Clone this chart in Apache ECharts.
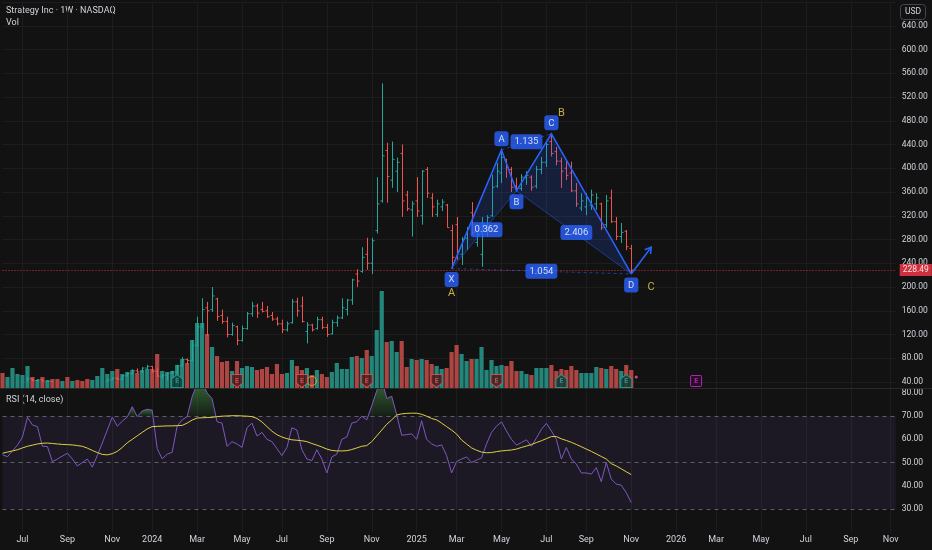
<!DOCTYPE html>
<html><head><meta charset="utf-8">
<script src="https://cdn.jsdelivr.net/npm/echarts@6/dist/echarts.min.js"></script>
<style>html,body{margin:0;padding:0;background:#121212;}#c{width:932px;height:550px;}</style>
</head><body><div id="c"></div>
<script>
// ---------- DATA ----------
const startDate = [2023, 5, 5];           // first weekly bar (Mon 5 Jun 2023)
const totalWeeks = 180;                   // visible weekly slots incl. future space
const tickWeeks = [4,13,22,30,39,48,56,65,74,83,91,100,109,117,126,135,143,152,161,170,178];
const tickTexts = ['Jul','Sep','Nov','2024','Mar','May','Jul','Sep','Nov','2025','Mar','May','Jul','Sep','Nov','2026','Mar','May','Jul','Sep','Nov'];
const priceTicks = { min: 40, max: 680, step: 40, lastShown: 640 };

// weekly bars: [open, close, low, high]
const ohlc = [
[31,29.8,29,31.5],[29.8,33.6,29.5,34.5],[33.6,34.8,33,36.2],[34.8,36.1,33.5,37],[36.1,39.5,35.5,41],
[39.5,45.2,39,48],[45.2,42.6,41.5,46],[42.6,43.8,41,45],[43.8,39.8,38.5,44.5],[39.8,40.6,38.5,42],
[40.6,34.7,34,41],[34.7,33.4,32.5,36],[33.4,36.6,33,38.5],[36.6,33.9,33.5,37],[33.9,34.4,32.8,35.5],
[34.4,32.8,32,34.8],[32.8,32,31,33.5],[32,30.9,30.2,33],[30.9,31.6,29.8,32.5],[31.6,33.3,31,34],
[33.3,39.5,33,40.5],[39.5,43.5,38.5,44.5],[43.5,46.5,42.5,48],[46.5,44.7,43.5,48.5],[44.7,50.5,44,51.5],
[50.5,54,49.5,56],[54,59,52.5,61.5],[59,57,55,63],[57,63.5,56,65],[63.5,66.3,61,69],
[66.3,58,56,67],[58,50,48,63],[50,51.5,46,53],[51.5,55,43,56],[55,57,53,59],
[57,67,54,69],[67,78,66,82],[78,76,70,80],[76,102,75,110],[102,133,100,150],
[133,162,130,181],[165,160,118,175],[162,185,158,200],[180,150,143,182],[152,142,138,162],
[142,120,115,150],[120,135,118,140],[133,110,102,135],[110,130,108,135],[130,155,128,158],
[155,168,150,175],[168,156,148,172],[162,159,157,175],[160,150,148,168],[152,146,143,158],
[146,138,135,150],[138,128,122,145],[128,138,125,142],[140,175,138,180],[175,160,150,182],
[168,142,140,184],[125,136,105,141],[136,128,125,138],[130,145,128,150],[145,132,129,150],
[132,120,116,138],[121,140,120,145],[140,148,133,152],[148,165,146,181],[162,178,152,180],
[178,212,170,214],[222,210,200,230],[226,250,224,267],[255,240,229,283],[240,278,222,283],
[295,340,290,385],[345,421,342,543],[430,386,342,443],[380,415,367,445],[395,410,360,418],
[425,345,318,440],[355,332,328,362],[330,340,285,345],[345,328,318,385],[320,395,305,397],
[398,358,350,402],[350,335,318,358],[322,340,318,347],[335,343,328,348],[338,300,300,340],
[295,250,231,305],[305,260,246,318],[255,280,237,284],[282,298,262,301],[325,292,288,343],
[275,288,268,292],[255,300,234,318],[300,317,285,321],[320,368,318,389],[370,395,367,409],
[392,418,375,431],[414,402,384,416],[398,368,360,402],[370,366,362,384],[366,385,362,390],
[384,388,372,395],[385,368,362,388],[370,398,366,404],[398,410,390,419],[410,440,402,444],
[445,425,420,458],[428,412,405,436],[412,395,367,418],[400,388,380,414],[392,362,360,411],
[362,340,335,375],[333,345,328,358],[335,350,321,358],[338,355,330,364],[340,350,330,358],
[340,300,296,342],[305,345,300,355],[350,310,308,364],[310,285,279,318],[285,292,274,308],
[294,268,262,296],[265,228.49,222,271]
];
const lastPrice = 228.49;

// weekly volume (relative units)
const volume = [
15,11,20,14,13,22,11,8,11,8, 9,9,7,11,7,8,7,9,8,12, 20,14,17,19,14,16,18,15,18,19,
19,34,17,16,17,23,29,25,48,65, 65,54,41,32,26,27,17,27,20,22, 21,18,19,21,14,24,14,15,28,22,
18,20,13,18,14,11,16,25,19,19, 31,32,30,38,32,58,97,46,47,36, 47,21,29,
28,29,28,24,22,19,20,36,43,34, 27,29,29,41,18,28,22,23,22,27, 17,17,14,13,20,20,20,23,17,19,
18,22,18,15,15,15,21,20,19,22, 19,17,23,18
];

// RSI(14) and its moving average
const rsi = [
53.3,52.5,55,57.5,61,69.5,66.2,65.5,57,56.9,
50.4,51.5,52.8,54,51.5,48.5,50,51.5,48,53,
58.4,64,69.6,65.7,67.8,69.6,74.1,69.8,72.2,73,
72.6,56,51.6,53.6,54.4,65.7,68.4,69.8,78.4,84,
85,80,77.6,67.6,67,57,59,58,56.5,65,
67,61.4,63,60,59,56,53,56.5,65,64,
55.5,51.5,50.8,55.5,51.5,45.5,52.4,53.6,60,61,
67,67.6,70,68.4,74.5,81,86,77.6,78.6,70.5,
61.8,62,62.4,60,68,60,58,57,57.6,53,
45.5,50.4,51.5,52.4,50,51,52,58,63,65.7,
67.5,63.6,60,57.5,58.6,59.8,57,60.6,64.3,66.9,
63.6,60,51.5,56.5,51.5,49.3,45.5,45.5,45,47.8,
41.7,50,42.8,40.7,40.2,37,32.7
];
const rsiMA = [
54,54.5,55,55.5,56.3,57,57.5,58,58.3,58.4,
58.2,58,57.8,57.7,57.6,57.3,57,56.2,55.2,54.3,
53.5,53.3,53.8,54.8,56.5,58.5,60,61.5,63,64.5,
65.5,65.6,65.7,65.8,65.8,65.9,66,67,68.3,69.2,
69.3,69.4,69.5,69.8,70,70.1,70.2,70.2,70.1,70,
69.8,69,67.5,65.5,63.5,62,61,60.3,59.8,59.6,
59.4,59,58.2,57.5,56.7,55.8,55.2,55,55,55.1,
55.6,56.3,57,57.3,59,61.5,64,66.5,68.4,70.5,
71,71.2,71.3,71.3,70.8,70,69,68.4,67,65.5,
64,62.3,59.7,58,56.3,55.3,54.5,54.2,54.3,54.7,
55,55.2,55.4,55.8,56.5,57.1,57.8,58.6,59.4,60.3,
61.2,61.2,60.2,59.5,58.7,57.8,56.8,55.8,54.8,53.7,
52.6,51.5,49.5,48.5,47.3,46,44.8
];
const rsiLevels = [70, 50, 30];

// harmonic pattern points [name, week, price, label side]
const patternPoints = [['X',90,231,'bottom'],['A',100,431,'top'],['B',103,362,'bottom'],['C',110,458,'top'],['D',126,222,'bottom']];
const patternRatios = [['0.362',96.5,296.5],['1.135',105,444.5],['2.406',114.5,292],['1.054',108,226.5]];
const arrowEnd = [130, 267];
const abcLabels = [['A',90,190],['B',112,492],['C',130,200]];

// events on the volume pane [week, kind]
const earnings = [[35,'up'],[47,'down'],[60,'down'],[73,'down'],[87,'down'],[99,'down'],[112,'up'],[125,'up'],[139,'future']];
const splitEvent = [62];
const dividendDot = [127];

// ---------- CHART ----------
const cats = [];
const d0 = Date.UTC(startDate[0], startDate[1], startDate[2]);
for (let i = 0; i < totalWeeks; i++) cats.push(new Date(d0 + i * 7 * 864e5).toISOString().slice(0, 10));
const tickMap = {};
tickWeeks.forEach((w, k) => tickMap[w] = tickTexts[k]);

const UP = '#26a69a', DOWN = '#ef5350';
const VUP = '#24857a', VDOWN = '#ad4542';
const GRIDC = '#1d1d1d';
const TXT = '#d1d4dc';
const FONT = 'Roboto, "Liberation Sans", sans-serif';
const GL = 2.5, GW = 893.2;
const CLEAR = 'rgba(0,0,0,0)';

const catAxis = (gi, showLabel) => ({
  type: 'category', gridIndex: gi, data: cats, boundaryGap: false,
  axisLine: { show: false }, axisTick: { show: false },
  axisLabel: showLabel ? {
    show: true, color: TXT, fontSize: 9, margin: 3, fontFamily: FONT,
    interval: (idx) => tickMap[idx] !== undefined,
    formatter: (v, idx) => tickMap[idx] || ''
  } : { show: false },
  splitLine: { show: true, interval: (idx) => tickMap[idx] !== undefined, lineStyle: { color: GRIDC, width: 1 } }
});

const shieldDown = 'path://M0 0 H10 V8 L5 12 L0 8 Z';
const shieldUp = 'path://M5 0 L10 4 V12 H0 V4 Z';
const squareSym = 'path://M1 0 H9 Q10 0 10 1 V9 Q10 10 9 10 H1 Q0 10 0 9 V1 Q0 0 1 0 Z';

const chart = echarts.init(document.getElementById('c'), null, { renderer: 'canvas' });

function renderBar(params, api) {
  const i = api.value(0), o = api.value(1), c = api.value(2), l = api.value(3), h = api.value(4);
  const pO = api.coord([i, o]), pC = api.coord([i, c]), pL = api.coord([i, l]), pH = api.coord([i, h]);
  const x = Math.round(pO[0]) + 0.5;
  const col = c >= o ? UP : DOWN;
  const st = { stroke: col, lineWidth: 1 };
  return { type: 'group', children: [
    { type: 'line', shape: { x1: x, y1: pH[1], x2: x, y2: pL[1] }, style: st },
    { type: 'line', shape: { x1: x - 2, y1: pO[1], x2: x, y2: pO[1] }, style: st },
    { type: 'line', shape: { x1: x, y1: pC[1], x2: x + 2, y2: pC[1] }, style: st }
  ]};
}

function renderOverbought(params, api) {
  const polys = [];
  let cur = null;
  const y70 = api.coord([0, 70])[1];
  for (let i = 0; i < rsi.length; i++) {
    const v = rsi[i];
    const p = api.coord([i, v]);
    if (v > 70) {
      if (!cur) {
        cur = [];
        if (i > 0) {
          const pv = rsi[i - 1], pp = api.coord([i - 1, pv]);
          const t = (70 - pv) / (v - pv);
          cur.push([pp[0] + t * (p[0] - pp[0]), y70]);
        } else cur.push([p[0], y70]);
      }
      cur.push(p);
    } else if (cur) {
      const pv = rsi[i - 1], pp = api.coord([i - 1, pv]);
      const t = (pv - 70) / (pv - v);
      cur.push([pp[0] + t * (p[0] - pp[0]), y70]);
      polys.push(cur); cur = null;
    }
  }
  return { type: 'group', children: polys.map(pts => ({
    type: 'polygon', shape: { points: pts },
    style: { fill: new echarts.graphic.LinearGradient(0, 0, 0, 1, [
      { offset: 0, color: 'rgba(76,175,80,0.55)' }, { offset: 1, color: 'rgba(76,175,80,0.08)' }]) }
  }))};
}

function renderPattern(params, api) {
  const pt = {};
  patternPoints.forEach(p => { pt[p[0]] = api.coord([p[1], p[2]]); });
  const end = api.coord(arrowEnd);
  const blue = '#2962ff';
  const ang = Math.atan2(end[1] - pt.D[1], end[0] - pt.D[0]);
  const L = 7, sp = 0.55;
  const h1 = [end[0] - L * Math.cos(ang - sp), end[1] - L * Math.sin(ang - sp)];
  const h2 = [end[0] - L * Math.cos(ang + sp), end[1] - L * Math.sin(ang + sp)];
  const ln = (a, b, style) => ({ type: 'line', shape: { x1: a[0], y1: a[1], x2: b[0], y2: b[1] }, style });
  return { type: 'group', children: [
    { type: 'polygon', shape: { points: [pt.X, pt.A, pt.B] }, style: { fill: 'rgba(41,98,255,0.17)' } },
    { type: 'polygon', shape: { points: [pt.B, pt.C, pt.D] }, style: { fill: 'rgba(41,98,255,0.17)' } },
    ln(pt.X, pt.B, { stroke: 'rgba(41,98,255,0.45)', lineWidth: 1 }),
    ln(pt.B, pt.D, { stroke: 'rgba(41,98,255,0.45)', lineWidth: 1 }),
    ln(pt.A, pt.C, { stroke: 'rgba(41,98,255,0.55)', lineWidth: 1, lineDash: [3, 3] }),
    ln(pt.X, pt.D, { stroke: 'rgba(41,98,255,0.55)', lineWidth: 1, lineDash: [3, 3] }),
    { type: 'polyline', shape: { points: [pt.X, pt.A, pt.B, pt.C, pt.D] }, style: { stroke: blue, lineWidth: 1.5, fill: null } },
    ln(pt.D, end, { stroke: blue, lineWidth: 1.5 }),
    { type: 'polyline', shape: { points: [h1, end, h2] }, style: { stroke: blue, lineWidth: 1.5, fill: null } }
  ]};
}

const blueLabel = { color: '#ffffff', backgroundColor: '#2962ff', borderRadius: 3, padding: [3, 4, 2, 4], fontSize: 9.5, fontFamily: FONT };

const option = {
  backgroundColor: '#121212',
  animation: false,
  textStyle: { fontFamily: FONT },
  grid: [
    { left: GL, width: GW, top: 2, height: 380 },
    { left: GL, width: GW, top: 250, height: 138 },
    { left: GL, width: GW, top: 388, height: 144 }
  ],
  xAxis: [catAxis(0, false), catAxis(1, false), catAxis(2, true)],
  yAxis: [
    { type: 'value', gridIndex: 0, position: 'right', min: priceTicks.min, max: priceTicks.max, interval: priceTicks.step,
      axisLine: { show: false }, axisTick: { show: false },
      axisLabel: { color: TXT, fontSize: 8.5, margin: 6, fontFamily: FONT, formatter: v => v > priceTicks.lastShown ? '' : v.toFixed(2) },
      splitLine: { show: true, lineStyle: { color: GRIDC } } },
    { type: 'value', gridIndex: 1, min: 0, max: 138, show: false, splitLine: { show: false } },
    { type: 'value', gridIndex: 2, position: 'right', min: 20, max: 82.16, interval: 10,
      axisLine: { show: false }, axisTick: { show: false },
      axisLabel: { color: TXT, fontSize: 8.5, margin: 6, fontFamily: FONT, formatter: v => (v >= 30 && v <= 80) ? v.toFixed(2) : '' },
      splitLine: { show: false } }
  ],
  graphic: [
    { type: 'line', shape: { x1: 0, y1: 388.5, x2: 932, y2: 388.5 }, style: { stroke: '#2a2a2a', lineWidth: 1 }, z: 10 },
    { type: 'text', left: 6, top: 6, style: { text: 'Strategy Inc · 1W · NASDAQ', fill: TXT, font: '9px ' + FONT } },
    { type: 'text', left: 6, top: 18, style: { text: 'Vol', fill: TXT, font: '9px ' + FONT } },
    { type: 'text', left: 6, top: 395, style: { text: 'RSI (14, close)', fill: TXT, font: '9px ' + FONT } },
    { type: 'rect', shape: { x: 900.5, y: 4.5, width: 25, height: 15, r: 3 }, style: { fill: '#121212', stroke: '#434651', lineWidth: 1 }, z: 10 },
    { type: 'text', x: 913, y: 12, style: { text: 'USD', fill: TXT, font: '8.5px ' + FONT, align: 'center', verticalAlign: 'middle' }, z: 11 }
  ],
  series: [
    { name: 'Vol', type: 'bar', xAxisIndex: 1, yAxisIndex: 1, barWidth: 4.2, z: 2,
      data: volume.map((v, i) => ({ value: v, itemStyle: { color: ohlc[i][1] >= ohlc[i][0] ? VUP : VDOWN } })) },
    { name: 'events', type: 'scatter', xAxisIndex: 1, yAxisIndex: 1, z: 4,
      data: earnings.map(e => {
        const col = e[1] === 'up' ? '#26a69a' : (e[1] === 'down' ? '#ef5350' : '#d52bd4');
        const fill = e[1] === 'up' ? '#123a36' : (e[1] === 'down' ? '#4a1c1f' : '#2a0f2a');
        return { value: [e[0], 7], symbol: e[1] === 'up' ? shieldUp : (e[1] === 'down' ? shieldDown : squareSym),
          symbolSize: e[1] === 'future' ? [11, 11] : [11, 13],
          itemStyle: { color: fill, borderColor: col, borderWidth: 1 },
          label: { show: true, formatter: 'E', position: 'inside', color: col, fontSize: 7, fontWeight: 'bold' } };
      }) },
    { name: 'split', type: 'scatter', xAxisIndex: 1, yAxisIndex: 1, z: 3, symbol: 'circle', symbolSize: 9,
      itemStyle: { color: CLEAR, borderColor: '#f5a623', borderWidth: 1.2 },
      data: splitEvent.map(w => [w, 7]) },
    { name: 'div', type: 'scatter', xAxisIndex: 1, yAxisIndex: 1, z: 3, symbol: 'circle', symbolSize: 3,
      itemStyle: { color: '#f06292' }, data: dividendDot.map(w => [w, 11]) },
    { name: 'price', type: 'custom', xAxisIndex: 0, yAxisIndex: 0, z: 5, clip: true,
      data: ohlc.map((d, i) => [i, d[0], d[1], d[2], d[3]]), encode: { x: 0, y: [1, 2, 3, 4] }, renderItem: renderBar },
    { name: 'last', type: 'line', xAxisIndex: 0, yAxisIndex: 0, z: 6, clip: false, symbol: 'none',
      data: [[ohlc.length - 1, lastPrice]],
      markLine: { symbol: 'none', silent: true, data: [{ yAxis: lastPrice }],
        lineStyle: { color: '#f23645', type: [1, 2], width: 1, opacity: 0.85 },
        label: { show: true, position: 'end', distance: 4, formatter: lastPrice.toFixed(2), color: '#ffffff', backgroundColor: '#f23645',
          padding: [2, 3, 1, 3], fontSize: 8.5, fontFamily: FONT } } },
    { name: 'pattern', type: 'custom', xAxisIndex: 0, yAxisIndex: 0, z: 7, clip: true,
      data: [[patternPoints[0][1], patternPoints[0][2]]], renderItem: renderPattern },
    { name: 'patternLabels', type: 'scatter', xAxisIndex: 0, yAxisIndex: 0, z: 8, symbolSize: 1,
      itemStyle: { color: CLEAR },
      data: patternPoints.map(p => ({ value: [p[1], p[2]], label: Object.assign({ show: true, formatter: p[0], position: p[3], distance: 3 }, blueLabel) }))
        .concat(patternRatios.map(r => ({ value: [r[1], r[2]], label: Object.assign({ show: true, formatter: r[0], position: 'inside' }, blueLabel) }))) },
    { name: 'abc', type: 'scatter', xAxisIndex: 0, yAxisIndex: 0, z: 8, symbolSize: 1, itemStyle: { color: CLEAR },
      data: abcLabels.map(a => ({ value: [a[1], a[2]], label: { show: true, formatter: a[0], position: 'inside', color: '#f0d44c', fontSize: 11, fontFamily: FONT } })) },
    { name: 'RSI', type: 'line', xAxisIndex: 2, yAxisIndex: 2, z: 5, symbol: 'none', data: rsi,
      lineStyle: { color: '#7e57c2', width: 1 },
      markArea: { silent: true, itemStyle: { color: 'rgba(126,87,194,0.1)' }, data: [[{ yAxis: 30 }, { yAxis: 70 }]] },
      markLine: { silent: true, symbol: 'none', label: { show: false },
        lineStyle: { color: '#5d606b', type: [4, 4], width: 1 }, data: rsiLevels.map(v => ({ yAxis: v })) } },
    { name: 'OB', type: 'custom', xAxisIndex: 2, yAxisIndex: 2, z: 4, clip: true, data: [[0, 70]], renderItem: renderOverbought },
    { name: 'RSI MA', type: 'line', xAxisIndex: 2, yAxisIndex: 2, z: 6, symbol: 'none', data: rsiMA,
      lineStyle: { color: '#e0cf45', width: 1 } }
  ]
};
chart.setOption(option);
</script></body></html>
